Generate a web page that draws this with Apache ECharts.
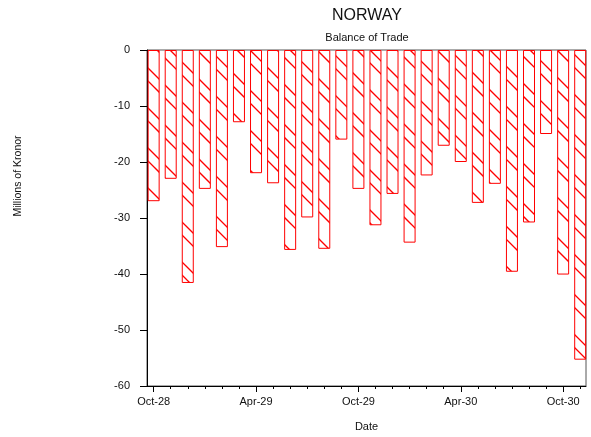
<!DOCTYPE html>
<html>
<head>
<meta charset="utf-8">
<script src="https://cdn.jsdelivr.net/npm/echarts@6/dist/echarts.min.js"></script>
<style>
html,body{margin:0;padding:0;background:#fff;}
#chart{width:591px;height:437px;}
</style>
</head>
<body>
<div id="chart"></div>
<script>
// Data (monthly, Oct-28 .. Nov-30)
var months = ['Oct-28','Nov-28','Dec-28','Jan-29','Feb-29','Mar-29','Apr-29','May-29','Jun-29','Jul-29','Aug-29','Sep-29',
              'Oct-29','Nov-29','Dec-29','Jan-30','Feb-30','Mar-30','Apr-30','May-30','Jun-30','Jul-30','Aug-30','Sep-30',
              'Oct-30','Nov-30'];
var values = [-27.0,-23.0,-41.6,-24.8,-35.2,-12.9,-22.0,-23.8,-35.7,-29.9,-35.5,-16.0,
              -24.8,-31.3,-25.7,-34.4,-22.4,-17.1,-20.0,-27.3,-23.9,-39.6,-30.8,-15.0,
              -40.1,-55.3];
var tickLabels = ['Oct-28','Apr-29','Oct-29','Apr-30','Oct-30'];

var majorIdx = tickLabels.map(function(l){ return months.indexOf(l); });
var allIdx = months.map(function(m,i){ return i; });

// Hatch pattern: "\" diagonal lines (two lines per 40px period)
function makeHatch(){
  var c = document.createElement('canvas');
  c.width = 40; c.height = 40;
  var g = c.getContext('2d');
  g.strokeStyle = '#ff0000';
  g.lineWidth = 1.3;
  var offs = [0, 13];
  for (var k = 0; k < offs.length; k++){
    for (var s = -1; s <= 1; s++){
      var o = offs[k] + s * 40;
      g.beginPath();
      g.moveTo(-5, o - 5);
      g.lineTo(45, o + 45);
      g.stroke();
    }
  }
  return c;
}

var chart = echarts.init(document.getElementById('chart'), null, {renderer:'canvas'});
var font = 'Liberation Sans, Arial, sans-serif';

var option = {
  animation: false,
  backgroundColor: '#ffffff',
  title: [
    {text: 'NORWAY', left: 367, top: 8, textAlign: 'center', padding: 0,
     textStyle: {fontFamily: font, fontSize: 16, fontWeight: 'normal', color: '#111'}},
    {text: 'Balance of Trade', left: 367, top: 32, textAlign: 'center', padding: 0,
     textStyle: {fontFamily: font, fontSize: 11, fontWeight: 'normal', color: '#111'}}
  ],
  graphic: [{
    type: 'text', x: 18.5, y: 176, rotation: Math.PI/2,
    style: {text: 'Millions of Kronor', font: '10.5px ' + font, fill: '#111',
            textAlign: 'center', textVerticalAlign: 'middle'}
  }],
  grid: {left: 147, right: 5, top: 50, bottom: 50.5, show: true,
         borderColor: '#555', borderWidth: 1, backgroundColor: 'transparent', containLabel: false},
  xAxis: [{
    type: 'value', min: -0.39, max: 25.34, position: 'bottom',
    name: 'Date', nameLocation: 'middle', nameGap: 35,
    nameTextStyle: {fontFamily: font, fontSize: 11, color: '#111'},
    axisLine: {show: true, onZero: false, lineStyle: {color: '#000', width: 1}},
    axisTick: {show: true, length: 6, lineStyle: {color: '#000'}, customValues: majorIdx},
    axisLabel: {show: true, margin: 10, fontFamily: font, fontSize: 11, color: '#111',
                customValues: majorIdx,
                formatter: function(v){ return months[Math.round(v)]; }},
    splitLine: {show: false}
  },{
    type: 'value', min: -0.39, max: 25.34, position: 'bottom',
    axisLine: {show: false, onZero: false},
    axisTick: {show: true, length: 3, lineStyle: {color: '#000'}, customValues: allIdx},
    axisLabel: {show: false},
    splitLine: {show: false}
  }],
  yAxis: {
    type: 'value', min: -60, max: 0, interval: 10, position: 'left',
    axisLine: {show: true, onZero: false, lineStyle: {color: '#000', width: 1}},
    axisTick: {show: true, length: 7, lineStyle: {color: '#000'}},
    axisLabel: {margin: 17, fontFamily: font, fontSize: 11, color: '#111', padding: [0,0,8,0]},
    splitLine: {show: false}
  },
  series: [{
    type: 'bar',
    xAxisIndex: 0,
    barWidth: 12,
    data: values.map(function(v,i){ return [i, v]; }),
    itemStyle: {
      color: {image: makeHatch(), repeat: 'repeat'},
      borderColor: '#ff0000', borderWidth: 1
    }
  }]
};
chart.setOption(option);
</script>
</body>
</html>
